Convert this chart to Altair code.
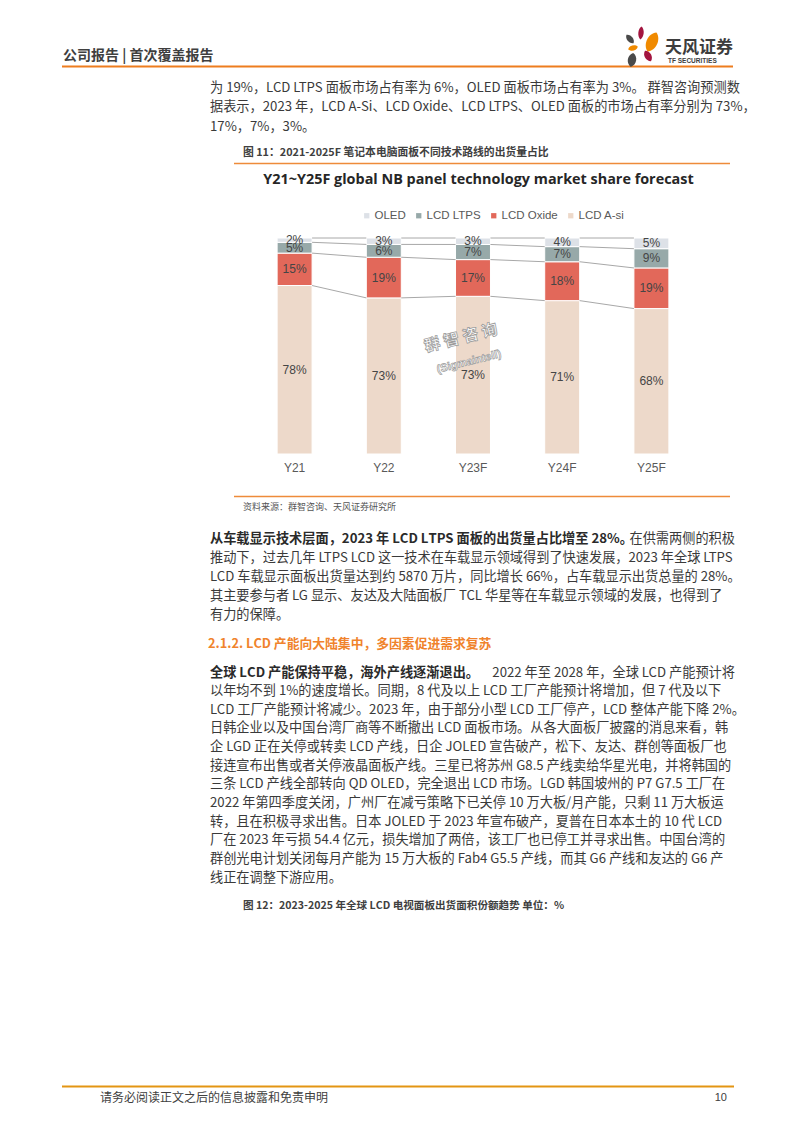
import altair as alt
import pandas as pd

# ---------------- data ----------------
years = ["Y21", "Y22", "Y23F", "Y24F", "Y25F"]
series = ["OLED", "LCD LTPS", "LCD Oxide", "LCD A-si"]
oled = [2, 3, 3, 4, 5]
ltps = [5, 6, 7, 7, 9]
oxide = [15, 19, 17, 18, 19]
asi = [78, 73, 73, 71, 68]
colors = ["#dde1e7", "#97a9a9", "#e2685a", "#edd9ca"]

para1 = [
    "为 19%，LCD  LTPS 面板市场占有率为 6%，OLED 面板市场占有率为 3%。  群智咨询预测数",
    "据表示，2023 年，LCD A-Si、LCD Oxide、LCD LTPS、OLED 面板的市场占有率分别为 73%，",
    "17%，7%，3%。",
]
para2_bold = "从车载显示技术层面，2023 年 LCD LTPS 面板的出货量占比增至 28%。"
para2_rest = "在供需两侧的积极"
para2 = [
    "推动下，过去几年 LTPS  LCD 这一技术在车载显示领域得到了快速发展，2023 年全球 LTPS",
    "LCD 车载显示面板出货量达到约 5870 万片，同比增长 66%，占车载显示出货总量的 28%。",
    "其主要参与者 LG 显示、友达及大陆面板厂 TCL 华星等在车载显示领域的发展，也得到了",
    "有力的保障。",
]
heading = "2.1.2. LCD 产能向大陆集中，多因素促进需求复苏"
para3_bold = "全球 LCD 产能保持平稳，海外产线逐渐退出。"
para3_rest = "2022 年至 2028 年，全球 LCD 产能预计将"
para3 = [
    "以年均不到 1%的速度增长。同期，8 代及以上 LCD 工厂产能预计将增加，但 7 代及以下",
    "LCD 工厂产能预计将减少。2023 年，由于部分小型 LCD 工厂停产，LCD 整体产能下降 2%。",
    "日韩企业以及中国台湾厂商等不断撤出 LCD 面板市场。从各大面板厂披露的消息来看，韩",
    "企 LGD 正在关停或转卖 LCD 产线，日企 JOLED 宣告破产，松下、友达、群创等面板厂也",
    "接连宣布出售或者关停液晶面板产线。三星已将苏州 G8.5 产线卖给华星光电，并将韩国的",
    "三条 LCD 产线全部转向 QD  OLED，完全退出 LCD 市场。LGD 韩国坡州的 P7  G7.5 工厂在",
    "2022 年第四季度关闭，广州厂在减亏策略下已关停 10 万大板/月产能，只剩 11 万大板运",
    "转，且在积极寻求出售。日本 JOLED 于 2023 年宣布破产，夏普在日本本土的 10 代 LCD",
    "厂在 2023 年亏损 54.4 亿元，损失增加了两倍，该工厂也已停工并寻求出售。中国台湾的",
    "群创光电计划关闭每月产能为 15 万大板的 Fab4  G5.5 产线，而其 G6 产线和友达的 G6 产",
    "线正在调整下游应用。",
]
header = "公司报告 | 首次覆盖报告"
caption11 = "图 11：2021-2025F 笔记本电脑面板不同技术路线的出货量占比"
caption12 = "图 12：2023-2025 年全球 LCD 电视面板出货面积份额趋势 单位：%"
chart_title = "Y21~Y25F global NB panel technology market share forecast"
source = "资料来源：群智咨询、天风证券研究所"
footer = "请务必阅读正文之后的信息披露和免责申明"
page_no = "10"
watermark_cn = "群 智 咨 询"
watermark_en = "(Sigmaintell)"

rows = []
for i, yr in enumerate(years):
    for s, vals, order in [("LCD A-si", asi, 0), ("LCD Oxide", oxide, 1),
                           ("LCD LTPS", ltps, 2), ("OLED", oled, 3)]:
        rows.append({"year": yr, "idx": i, "series": s, "order": order, "value": vals[i]})
df = pd.DataFrame(rows)

# ---------------- layout ----------------
W, H = 446, 216
X0, Y0 = 250, 238  # page position of the plot origin
CJK = "Noto Sans CJK SC"
LAT = "Liberation Sans"
HW = 0.196  # half bar width in band units
BODY = 13.2


def px(x):
    return x - X0


def py(y):
    return y - Y0


one = pd.DataFrame({"k": [0]})


def txt(s, x, y, size=BODY, weight="normal", color="#3a3a3a", align="left",
        font=CJK, angle=0, **kw):
    return alt.Chart(one).mark_text(
        text=s, align=align, baseline="middle", fontSize=size, fontWeight=weight,
        color=color, font=font, angle=angle, **kw
    ).encode(x=alt.value(px(x)), y=alt.value(py(y)))


def hline(x1, x2, y, color, w):
    return alt.Chart(one).mark_rule(color=color, strokeWidth=w).encode(
        x=alt.value(px(x1)), x2=alt.value(px(x2)), y=alt.value(py(y)))


def petal(x, y, L, ang, color, wide=0.55):
    path = f"M0,-1 C{wide},-0.6 {wide},0.6 0,1 C-{wide},0.6 -{wide},-0.6 0,-1 Z"
    return alt.Chart(one).mark_point(
        shape=path, size=L * L, angle=ang, filled=True, color=color, opacity=1
    ).encode(x=alt.value(px(x)), y=alt.value(py(y)))


xs = alt.Scale(domain=[0, 5])
ys = alt.Scale(domain=[0, 1])

base = alt.Chart(df).transform_stack(
    stack="value", groupby=["year"], as_=["y0", "y1"], offset="normalize",
    sort=[alt.SortField("order", "ascending")]
).transform_calculate(
    xl=f"datum.idx + 0.5 - {HW}", xr=f"datum.idx + 0.5 + {HW}",
    xc="datum.idx + 0.5", ym="(datum.y0 + datum.y1) / 2",
    lbl="datum.value + '%'"
)

bars = base.mark_bar(stroke="white", strokeWidth=1).encode(
    x=alt.X("xl:Q", scale=xs, axis=None), x2="xr:Q",
    y=alt.Y("y0:Q", scale=ys, axis=None), y2="y1:Q",
    color=alt.Color("series:N", scale=alt.Scale(domain=series, range=colors),
                    legend=alt.Legend(orient="none", legendX=px(361), legendY=py(210),
                                      direction="horizontal", title=None,
                                      symbolType="square", symbolSize=28,
                                      symbolStrokeWidth=0, labelFont=LAT,
                                      labelFontSize=11.5, labelColor="#595959",
                                      labelOffset=2, columnPadding=7, padding=0,
                                      gridAlign="none"))
)

conn = base.transform_window(
    nxt="lead(y1)", groupby=["series"], sort=[alt.SortField("idx", "ascending")]
).transform_filter("isValid(datum.nxt)").transform_calculate(
    cx1=f"datum.idx + 0.5 + {HW}", cx2=f"datum.idx + 1.5 - {HW}"
).mark_rule(color="#a8a8a8", strokeWidth=1).encode(
    x=alt.X("cx1:Q", scale=xs, axis=None), x2="cx2:Q",
    y=alt.Y("y1:Q", scale=ys, axis=None), y2="nxt:Q"
)

seglabels = base.mark_text(font=LAT, fontSize=12, color="#454545").encode(
    x=alt.X("xc:Q", scale=xs, axis=None), y=alt.Y("ym:Q", scale=ys, axis=None),
    text="lbl:N"
)

xlabels = alt.Chart(pd.DataFrame({"year": years, "idx": list(range(len(years)))})
                    ).transform_calculate(xc="datum.idx + 0.5").mark_text(
    font=LAT, fontSize=12, color="#595959", baseline="middle"
).encode(x=alt.X("xc:Q", scale=xs, axis=None), y=alt.value(py(468)), text="year:N")

layers = [bars, conn, seglabels, xlabels]

# watermark
layers.append(txt(watermark_cn, 461, 338, size=16, weight="bold", color="white",
                  angle=346, align="center", stroke="#9c9c9c", strokeWidth=0.8))
layers.append(txt(watermark_en, 469, 362, size=11, weight="bold", color="white",
                  font=LAT, angle=346, align="center", stroke="#9c9c9c", strokeWidth=0.7))

# header
layers.append(txt(header, 63, 56, size=14, weight="bold", color="#3f3f3f"))
layers.append(hline(62, 733, 66.5, "#ee7d1e", 2))
# logo
layers += [
    petal(641, 33, 13, 5, "#a3153f"),
    petal(630, 39, 11, 320, "#4a4a4a", 0.7),
    petal(652, 42, 21, 25, "#f08a00", 0.7),
    petal(633, 48, 10, 75, "#f08a00", 0.7),
    petal(648, 56, 12, 330, "#a3153f", 0.75),
    petal(632, 60, 14, 10, "#4a4a4a", 0.8),
]
layers.append(txt("天风证券", 665, 47.5, size=17, weight="bold", color="#3d3d3d"))
layers.append(txt("TF SECURITIES", 668, 61, size=6.5, weight="bold", color="#3d3d3d", font=LAT))

# paragraph 1
for i, s in enumerate(para1):
    layers.append(txt(s, 210, 88 + 19.3 * i))

# figure 11 caption
layers.append(txt(caption11, 243, 153, size=10.8, weight="bold", color="#404040"))
layers.append(hline(234, 730, 163.5, "#ee8b3a", 1.5))
layers.append(txt(chart_title, 478.5, 180, size=14.4, weight="bold", color="#262626",
                  font="Open Sans", align="center"))
layers.append(hline(234, 730, 496.5, "#ee8b3a", 1.5))
layers.append(txt(source, 243, 507, size=9, color="#555555"))

# paragraph 2
layers.append(txt(para2_bold, 210, 538.5, weight="bold", color="#2a2a2a"))
layers.append(txt(para2_rest, 735, 538.5, align="right"))
for i, s in enumerate(para2):
    layers.append(txt(s, 210, 538.5 + 19.1 * (i + 1)))

layers.append(txt(heading, 208, 643.5, size=12.8, weight="bold", color="#f0832c"))

# paragraph 3
layers.append(txt(para3_bold, 210, 672.5, weight="bold", color="#2a2a2a"))
layers.append(txt(para3_rest, 735, 672.5, align="right"))
for i, s in enumerate(para3):
    layers.append(txt(s, 210, 672.5 + 18.65 * (i + 1)))

layers.append(txt(caption12, 243, 906, size=10.6, weight="bold", color="#404040"))

# footer
layers.append(hline(62, 734, 1086.5, "#e39513", 2))
layers.append(txt(footer, 100, 1098, size=12, color="#404040"))
layers.append(txt(page_no, 727, 1098, size=11, color="#404040", font=LAT, align="right"))

chart = alt.layer(*layers).properties(
    width=W, height=H,
    padding={"left": X0 - 8, "top": Y0 - 8, "right": 80, "bottom": 1100 - (Y0 - 8) - H},
    autosize=alt.AutoSizeParams(type="none"),
).configure_view(stroke=None)

chart.save("out.html", embed_options={"renderer": "svg", "actions": False})
